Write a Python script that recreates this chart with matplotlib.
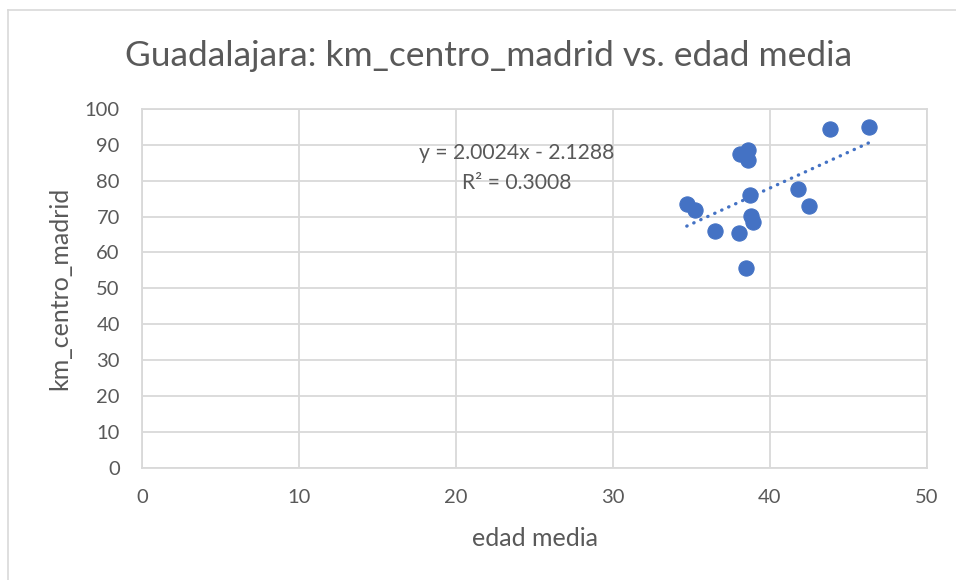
import matplotlib
matplotlib.use("Agg")
import matplotlib.pyplot as plt
from matplotlib.lines import Line2D
import numpy as np

# Average age vs. distance to Madrid centre, Guadalajara municipalities
edad_media = [43.8, 46.3, 38.6, 38.1, 38.6, 38.7, 41.8, 42.5, 34.7, 35.2,
              38.8, 38.9, 36.5, 38.0, 38.5]
km_centro_madrid = [94.4, 95.1, 88.6, 87.4, 85.8, 76.0, 77.7, 73.0, 73.5, 71.8,
                    70.2, 68.6, 66.1, 65.3, 55.7]

# Linear trendline coefficients
slope = 2.0024
intercept = -2.1288
r_squared = 0.3008

x_ticks = [0, 10, 20, 30, 40, 50]
y_ticks = [0, 10, 20, 30, 40, 50, 60, 70, 80, 90, 100]

FONT = ["Lato", "DejaVu Sans"]
TXT = "#595959"
GRID = "#D9D9D9"
BLUE = "#4472C4"

W, H = 956, 580
fig = plt.figure(figsize=(W / 100, H / 100), dpi=100)
fig.patch.set_facecolor("white")

left, right, top, bottom = 142, 927, 109, 467.7
aw, ah = right - left, bottom - top
ax = fig.add_axes([left / W, 1 - bottom / H, aw / W, ah / H])

ax.set_xlim(x_ticks[0], x_ticks[-1])
ax.set_ylim(y_ticks[0], y_ticks[-1])
ax.set_xticks(x_ticks)
ax.set_yticks(y_ticks)
ax.grid(True, color=GRID, linewidth=1.3)
ax.set_axisbelow(True)
for sp in ax.spines.values():
    sp.set_color(GRID)
    sp.set_linewidth(1.3)
ax.tick_params(length=0, labelsize=14.5, labelcolor=TXT)
ax.tick_params(axis="x", pad=15)
ax.tick_params(axis="y", pad=16)
for lab in ax.get_xticklabels() + ax.get_yticklabels():
    lab.set_family(FONT)

# Trendline across the range of the data
xs = np.array([min(edad_media), max(edad_media)])
ax.plot(xs, slope * xs + intercept, color=BLUE, linewidth=2.4,
        linestyle=(0, (0.1, 2.2)), dash_capstyle="round", zorder=2)

ax.scatter(edad_media, km_centro_madrid, s=120, color=BLUE,
           edgecolors=BLUE, linewidths=0.8, zorder=3)

ax.text(23.85, 87.7, f"y = {slope:.4f}x - {abs(intercept):.4f}",
        ha="center", va="center", fontsize=15.2, color=TXT, family=FONT)
ax.text(23.85, 79.4, f"R² = {r_squared:.4f}",
        ha="center", va="center", fontsize=15.2, color=TXT, family=FONT)

ax.set_xlabel("edad media", fontsize=18, color=TXT, family=FONT)
ax.set_ylabel("km_centro_madrid", fontsize=18, color=TXT, family=FONT)
ax.xaxis.label.set_va("center")
ax.yaxis.label.set_va("center")
ax.xaxis.set_label_coords(0.5, (bottom - 538) / ah)
ax.yaxis.set_label_coords((60 - left) / aw, 0.5)

fig.text(489 / W, 1 - 56 / H, "Guadalajara: km_centro_madrid vs. edad media",
         ha="center", va="center", fontsize=25.5, color=TXT, family=FONT)

# Chart area border (top and left edges)
fig.add_artist(Line2D([8 / W, 1], [1 - 10 / H, 1 - 10 / H], color=GRID, linewidth=1.2))
fig.add_artist(Line2D([8 / W, 8 / W], [0, 1 - 10 / H], color=GRID, linewidth=1.2))

fig.savefig("out.png", dpi=100, facecolor="white")
